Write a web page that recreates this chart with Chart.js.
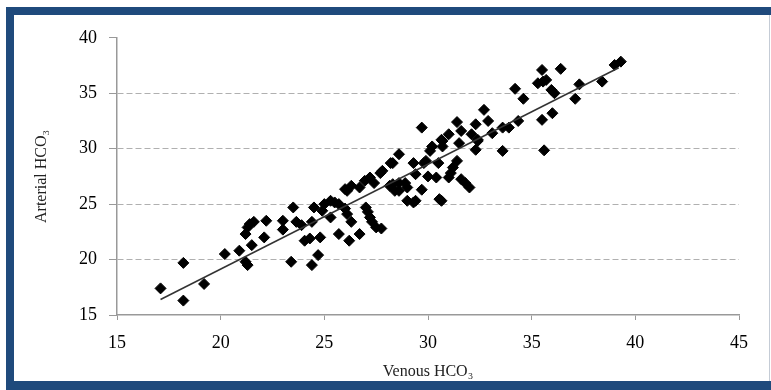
<!DOCTYPE html>
<html>
<head>
<meta charset="utf-8">
<script src="https://cdn.jsdelivr.net/npm/chart.js@4.4.0/dist/chart.umd.min.js"></script>
<style>
  body { margin: 0; background: #fff; }
  .bar { position: absolute; background: #1f4a7c; }
  #wrap { position: absolute; left: 14px; top: 15px; width: 755px; height: 366px; }
</style>
</head>
<body>
<div class="bar" style="left:6px;top:7px;width:8px;height:383px"></div>
<div class="bar" style="left:6px;top:7px;width:765px;height:8px"></div>
<div class="bar" style="left:6px;top:381px;width:765px;height:9px"></div>
<div style="position:absolute;left:769px;top:15px;width:1px;height:366px;background:#c5ccd6"></div>
<div id="wrap"><canvas id="scatterChart" width="755" height="366"></canvas></div>
<script>
// venous vs arterial HCO3 readings
const venous = [17.1, 18.2, 18.2, 19.2, 20.2, 20.9, 21.2, 21.3, 21.5, 22.1,
    21.2, 21.3, 21.4, 21.6, 22.2, 23.0, 23.0, 23.4, 23.5, 23.65,
    23.9, 24.4, 24.05, 24.3, 24.8, 24.4, 24.7, 24.5, 24.9, 25.3,
    25.0, 25.3, 25.5, 25.7, 26.0, 26.1, 26.3, 25.7, 26.2, 26.7,
    26.0, 26.3, 26.1, 26.7, 27.0, 27.1, 27.2, 27.3, 27.5, 27.75,
    27.2, 27.4, 27.7, 28.3, 28.6, 28.6, 28.2, 29.3, 29.8, 30.1,
    30.2, 30.5, 31.4, 31.1, 29.4, 30.0, 30.4, 31.0, 31.6, 32.0,
    28.9, 29.0, 28.6, 29.7, 29.3, 30.65, 32.3, 33.6, 30.7, 31.5,
    32.4, 29.7, 31.4, 31.6, 31.0, 32.3, 32.7, 32.9, 32.1, 32.4,
    33.1, 33.6, 30.65, 34.2, 34.6, 35.5, 36.4, 35.3, 35.55, 35.7,
    35.95, 36.1, 37.3, 37.1, 38.4, 39.0, 39.3, 36.0, 35.5, 34.35,
    33.9, 35.6, 26.95, 27.8, 28.3, 28.15, 28.4, 29.0, 29.4, 30.55,
    29.9, 31.2, 31.8, 30.7];
const arterial = [17.4, 19.7, 16.3, 17.8, 20.5, 20.8, 19.8, 19.5, 21.3, 22.0,
    22.3, 22.9, 23.2, 23.4, 23.5, 23.5, 22.7, 19.8, 24.7, 23.4,
    23.1, 23.4, 21.7, 21.9, 22.0, 19.5, 20.4, 24.7, 24.4, 25.3,
    25.0, 23.8, 25.15, 25.0, 24.6, 24.1, 23.4, 22.3, 21.7, 22.3,
    26.35, 26.65, 26.2, 26.5, 24.7, 24.3, 23.8, 23.4, 22.9, 22.8,
    27.4, 26.9, 27.8, 26.8, 26.9, 29.5, 28.7, 28.7, 28.7, 29.8,
    30.2, 28.7, 28.9, 27.8, 27.7, 27.5, 27.4, 27.4, 27.25, 26.5,
    26.9, 26.5, 26.2, 26.3, 25.15, 25.3, 29.9, 29.8, 30.7, 30.5,
    30.7, 31.9, 32.4, 31.6, 31.3, 32.2, 33.5, 32.5, 31.3, 30.8,
    31.4, 31.9, 30.8, 35.4, 34.5, 37.1, 37.2, 35.9, 36.05, 36.2,
    35.3, 35.0, 35.8, 34.5, 36.05, 37.55, 37.85, 33.2, 32.6, 32.5,
    31.9, 29.85, 27.1, 28.0, 28.7, 26.65, 26.2, 25.3, 25.3, 25.45,
    28.9, 28.3, 26.9, 30.2];

// fitted line end points
const trendVenous = [17.1, 39.2];
const trendArterial = [16.4, 37.3];

const xTicks = [15, 20, 25, 30, 35, 40, 45];
const yTicks = [15, 20, 25, 30, 35, 40];

const serif = "'Liberation Serif', 'DejaVu Serif', serif";

const points = venous.map((v, i) => ({ x: v, y: arterial[i] }));
const trend = trendVenous.map((v, i) => ({ x: v, y: trendArterial[i] }));

new Chart(document.getElementById('scatterChart').getContext('2d'), {
    type: 'scatter',
    data: {
        datasets: [{
            type: 'line',
            data: trend,
            borderColor: '#333',
            borderWidth: 1.5,
            pointRadius: 0,
            fill: false
        }, {
            data: points,
            pointStyle: 'rectRot',
            pointRadius: 5.5,
            pointBackgroundColor: '#000',
            pointBorderColor: '#000',
            pointBorderWidth: 1
        }]
    },
    options: {
        responsive: false,
        animation: false,
        layout: { padding: { left: 0, right: 30, top: 21, bottom: 0 } },
        plugins: { legend: { display: false }, tooltip: { enabled: false } },
        scales: {
            x: {
                type: 'linear',
                min: 15, max: 45,
                afterBuildTicks: s => { s.ticks = xTicks.map(v => ({ value: v })); },
                afterFit: s => { s.height = 66; },
                grid: { color: 'rgba(0,0,0,0)', drawTicks: true, tickLength: 5, tickColor: '#999' },
                border: { color: '#999', width: 1.5 },
                ticks: { color: '#000', padding: 12, font: { family: serif, size: 18 } },
                title: {
                    display: true, text: 'Venous HCO₃', color: '#222',
                    padding: { top: 0, bottom: 0 },
                    font: { family: serif, size: 16, lineHeight: 1.2 }
                }
            },
            y: {
                min: 15, max: 40,
                afterBuildTicks: s => { s.ticks = yTicks.map(v => ({ value: v })); },
                afterFit: s => { s.width = 103; },
                grid: {
                    color: c => (c.tick && (c.tick.value === 15 || c.tick.value === 40)) ? 'rgba(0,0,0,0)' : '#b0b0b0',
                    drawTicks: true, tickLength: 8, tickColor: '#999'
                },
                border: { color: '#999', width: 1.5, dash: [6, 3] },
                ticks: { color: '#000', padding: 12, font: { family: serif, size: 18 } },
                title: {
                    display: true, text: 'Arterial HCO₃', color: '#222',
                    padding: { top: 18, bottom: 0 },
                    font: { family: serif, size: 16, lineHeight: 1.2 }
                }
            }
        }
    }
});
</script>
</body>
</html>
